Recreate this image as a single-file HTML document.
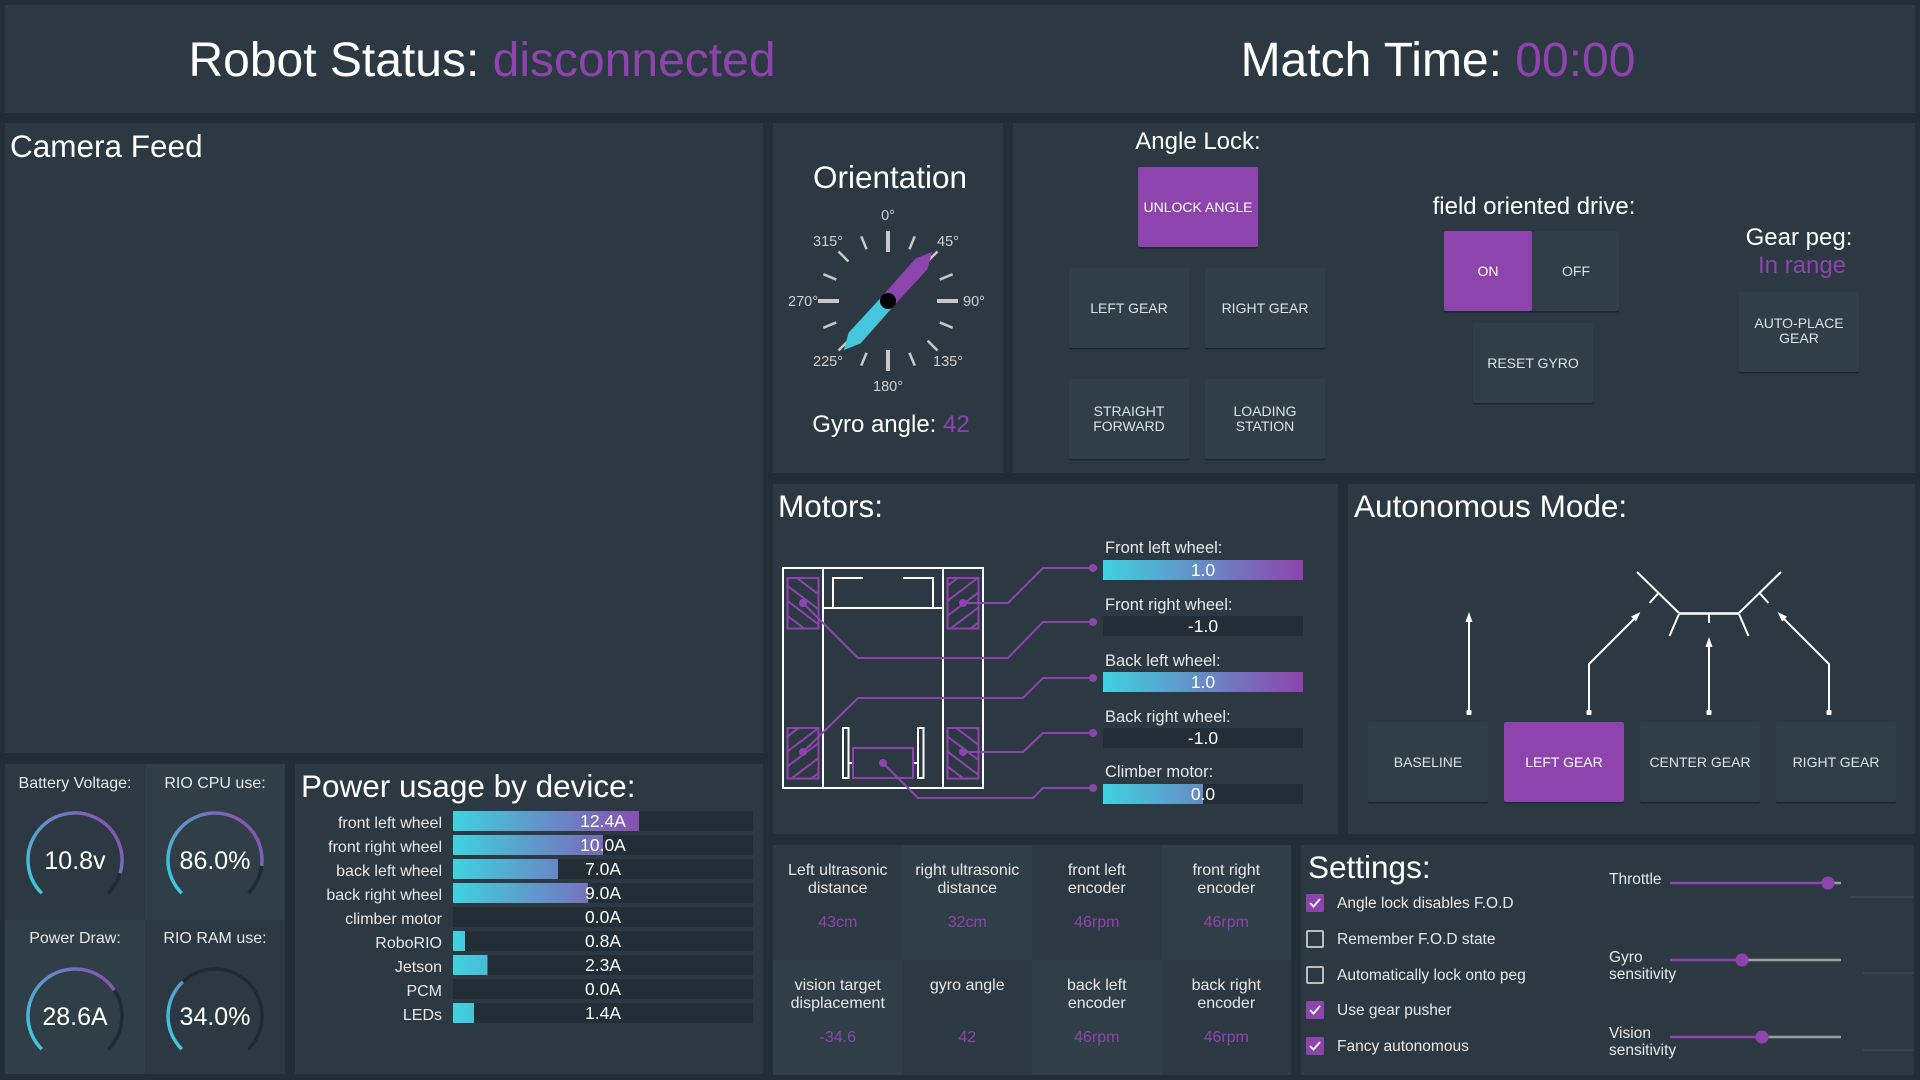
<!DOCTYPE html>
<html><head><meta charset="utf-8"><style>
html,body{margin:0;padding:0;background:#222e36;}
svg{display:block;font-family:"Liberation Sans",Arial,sans-serif;}
</style></head><body>
<svg width="1920" height="1080" viewBox="0 0 1920 1080" xmlns="http://www.w3.org/2000/svg">
<defs>
<linearGradient id="gm" gradientUnits="userSpaceOnUse" x1="1103" y1="0" x2="1303" y2="0"><stop offset="0" stop-color="#3fd2df"/><stop offset="1" stop-color="#8e44ad"/></linearGradient>
<linearGradient id="gp" gradientUnits="userSpaceOnUse" x1="453" y1="0" x2="653" y2="0"><stop offset="0" stop-color="#3fd2df"/><stop offset="1" stop-color="#8e44ad"/></linearGradient>
<linearGradient id="g1" gradientUnits="userSpaceOnUse" x1="40" y1="895" x2="120" y2="830"><stop offset="0" stop-color="#3fc9dc"/><stop offset="1" stop-color="#8a4fb0"/></linearGradient>
<linearGradient id="g2" gradientUnits="userSpaceOnUse" x1="180" y1="895" x2="260" y2="830"><stop offset="0" stop-color="#3fc9dc"/><stop offset="1" stop-color="#8a4fb0"/></linearGradient>
<linearGradient id="g3" gradientUnits="userSpaceOnUse" x1="40" y1="1051" x2="120" y2="986"><stop offset="0" stop-color="#3fc9dc"/><stop offset="1" stop-color="#8a4fb0"/></linearGradient>
<linearGradient id="g4" gradientUnits="userSpaceOnUse" x1="180" y1="1051" x2="260" y2="986"><stop offset="0" stop-color="#3fc9dc"/><stop offset="1" stop-color="#8a4fb0"/></linearGradient>
<pattern id="hb" width="20" height="12" patternUnits="userSpaceOnUse" patternTransform="rotate(37)"><line x1="0" y1="6" x2="20" y2="6" stroke="#8e44ad" stroke-width="2"/></pattern>
<pattern id="hf" width="20" height="12" patternUnits="userSpaceOnUse" patternTransform="rotate(-37)"><line x1="0" y1="6" x2="20" y2="6" stroke="#8e44ad" stroke-width="2"/></pattern>
</defs>

<!-- panels -->
<g fill="#2c3943">
<rect x="5" y="5" width="1910" height="108"/>
<rect x="5" y="123" width="758" height="630"/>
<rect x="773" y="123" width="230" height="350"/>
<rect x="1013" y="123" width="902" height="350"/>
<rect x="773" y="484" width="565" height="350"/>
<rect x="1348" y="484" width="567" height="350"/>
<rect x="5" y="764" width="280" height="310"/>
<rect x="295" y="764" width="468" height="310"/>
<rect x="773" y="845" width="518" height="230"/>
<rect x="1301" y="845" width="613" height="230"/>
</g>

<!-- header -->
<text x="482" y="76" font-size="48" text-anchor="middle" fill="#ffffff">Robot Status: <tspan fill="#8e44ad">disconnected</tspan></text>
<text x="1438" y="76" font-size="48" text-anchor="middle" fill="#ffffff">Match Time: <tspan fill="#8e44ad">00:00</tspan></text>

<!-- camera -->
<text x="10" y="157" font-size="31.5" fill="#ffffff">Camera Feed</text>

<!-- orientation -->
<text x="890" y="188" font-size="31.5" text-anchor="middle" fill="#ffffff">Orientation</text>
<g transform="translate(888,301)" stroke="#c8c8c8">
<line x1="0" y1="-49" x2="0" y2="-70" stroke-width="4"/>
<line x1="0" y1="-49" x2="0" y2="-70" stroke-width="4" transform="rotate(90)"/>
<line x1="0" y1="-49" x2="0" y2="-70" stroke-width="4" transform="rotate(180)"/>
<line x1="0" y1="-49" x2="0" y2="-70" stroke-width="4" transform="rotate(270)"/>
<g stroke-width="2.5">
<line x1="0" y1="-56" x2="0" y2="-70" transform="rotate(22.5)"/>
<line x1="0" y1="-56" x2="0" y2="-70" transform="rotate(45)"/>
<line x1="0" y1="-56" x2="0" y2="-70" transform="rotate(67.5)"/>
<line x1="0" y1="-56" x2="0" y2="-70" transform="rotate(112.5)"/>
<line x1="0" y1="-56" x2="0" y2="-70" transform="rotate(135)"/>
<line x1="0" y1="-56" x2="0" y2="-70" transform="rotate(157.5)"/>
<line x1="0" y1="-56" x2="0" y2="-70" transform="rotate(202.5)"/>
<line x1="0" y1="-56" x2="0" y2="-70" transform="rotate(225)"/>
<line x1="0" y1="-56" x2="0" y2="-70" transform="rotate(247.5)"/>
<line x1="0" y1="-56" x2="0" y2="-70" transform="rotate(292.5)"/>
<line x1="0" y1="-56" x2="0" y2="-70" transform="rotate(315)"/>
<line x1="0" y1="-56" x2="0" y2="-70" transform="rotate(337.5)"/>
</g>
</g>
<g font-size="14.5" fill="#cfcfcf" text-anchor="middle">
<text x="888" y="220">0°</text>
<text x="948" y="246">45°</text>
<text x="974" y="306">90°</text>
<text x="948" y="366">135°</text>
<text x="888" y="391">180°</text>
<text x="828" y="366">225°</text>
<text x="803" y="306">270°</text>
<text x="828" y="246">315°</text>
</g>
<g transform="translate(888,301) rotate(42)">
<polygon points="-7.5,0 -8,-50 0,-66 8,-50 7.5,0" fill="#8e44ad"/>
<polygon points="-7.5,0 -8,50 0,66 8,50 7.5,0" fill="#46c6dc"/>
<circle cx="0" cy="0" r="8" fill="#000"/>
</g>
<text x="891" y="432" font-size="24" text-anchor="middle" fill="#ffffff">Gyro angle: <tspan fill="#8e44ad">42</tspan></text>

<!-- angle lock panel -->
<g font-size="24" fill="#ffffff" text-anchor="middle">
<text x="1198" y="149">Angle Lock:</text>
<text x="1534" y="214">field oriented drive:</text>
<text x="1799" y="245">Gear peg:</text>
<text x="1802" y="273" fill="#8e44ad">In range</text>
</g>
<g fill="#1d272e">
<rect x="1138" y="168.5" width="120" height="80" rx="2"/>
<rect x="1069" y="269.5" width="120" height="80" rx="2"/>
<rect x="1205" y="269.5" width="120" height="80" rx="2"/>
<rect x="1069" y="380.5" width="120" height="80" rx="2"/>
<rect x="1205" y="380.5" width="120" height="80" rx="2"/>
<rect x="1444" y="232.5" width="175" height="80" rx="2"/>
<rect x="1473" y="324.5" width="120" height="80" rx="2"/>
<rect x="1739" y="293.5" width="120" height="80" rx="2"/>
<rect x="1368" y="723.5" width="120" height="80" rx="2"/>
<rect x="1504" y="723.5" width="120" height="80" rx="2"/>
<rect x="1640" y="723.5" width="120" height="80" rx="2"/>
<rect x="1776" y="723.5" width="120" height="80" rx="2"/>
</g>
<g fill="#303e48">
<rect x="1069" y="268" width="120" height="80" rx="2"/>
<rect x="1205" y="268" width="120" height="80" rx="2"/>
<rect x="1069" y="379" width="120" height="80" rx="2"/>
<rect x="1205" y="379" width="120" height="80" rx="2"/>
<rect x="1444" y="231" width="175" height="80" rx="2"/>
<rect x="1473" y="323" width="120" height="80" rx="2"/>
<rect x="1739" y="292" width="120" height="80" rx="2"/>
<rect x="1368" y="722" width="120" height="80" rx="2"/>
<rect x="1640" y="722" width="120" height="80" rx="2"/>
<rect x="1776" y="722" width="120" height="80" rx="2"/>
</g>
<g fill="#8e44ad">
<rect x="1138" y="167" width="120" height="80" rx="2"/>
<rect x="1444" y="231" width="88" height="80" rx="2"/>
<rect x="1504" y="722" width="120" height="80" rx="2"/>
</g>
<g font-size="14" fill="#dde2e5" text-anchor="middle">
<text x="1198" y="212" fill="#ffffff">UNLOCK ANGLE</text>
<text x="1129" y="313">LEFT GEAR</text>
<text x="1265" y="313">RIGHT GEAR</text>
<text x="1129" y="416">STRAIGHT</text>
<text x="1129" y="431">FORWARD</text>
<text x="1265" y="416">LOADING</text>
<text x="1265" y="431">STATION</text>
<text x="1488" y="276" fill="#ffffff">ON</text>
<text x="1576" y="276">OFF</text>
<text x="1533" y="368">RESET GYRO</text>
<text x="1799" y="328">AUTO-PLACE</text>
<text x="1799" y="343">GEAR</text>
<text x="1428" y="767">BASELINE</text>
<text x="1564" y="767" fill="#ffffff">LEFT GEAR</text>
<text x="1700" y="767">CENTER GEAR</text>
<text x="1836" y="767">RIGHT GEAR</text>
</g>

<!-- motors -->
<text x="778" y="517" font-size="31.5" fill="#ffffff">Motors:</text>
<g fill="none" stroke="#ffffff" stroke-width="2">
<rect x="783" y="568" width="200" height="220"/>
<line x1="823" y1="568" x2="823" y2="788"/>
<line x1="943" y1="568" x2="943" y2="788"/>
<line x1="823" y1="608" x2="943" y2="608"/>
<polyline points="863,578 833,578 833,608"/>
<polyline points="903,578 933,578 933,608"/>
<rect x="843" y="728" width="5.5" height="50"/>
<rect x="918" y="728" width="5.5" height="50"/>
<line x1="848.5" y1="763" x2="853" y2="763"/>
<line x1="913" y1="763" x2="918" y2="763"/>
</g>
<rect x="787.5" y="578" width="31" height="50.5" fill="url(#hb)" stroke="#8e44ad" stroke-width="2"/>
<rect x="947.5" y="578" width="31" height="50.5" fill="url(#hf)" stroke="#8e44ad" stroke-width="2"/>
<rect x="787.5" y="728" width="31" height="50.5" fill="url(#hf)" stroke="#8e44ad" stroke-width="2"/>
<rect x="947.5" y="728" width="31" height="50.5" fill="url(#hb)" stroke="#8e44ad" stroke-width="2"/>
<rect x="853" y="748" width="60" height="30" fill="none" stroke="#8e44ad" stroke-width="2"/>
<g fill="none" stroke="#8e44ad" stroke-width="2">
<polyline points="963,603 1008,603 1043,568 1093,568"/>
<polyline points="803,603 858,658 1008,658 1043,622 1093,622"/>
<polyline points="803,752 858,698 1023,698 1043,678 1093,678"/>
<polyline points="963,752 1023,752 1043,733 1093,733"/>
<polyline points="883,763 918,798 1033,798 1043,788 1093,788"/>
</g>
<g fill="#8e44ad">
<circle cx="803" cy="603" r="4"/><circle cx="963" cy="603" r="4"/>
<circle cx="803" cy="752" r="4"/><circle cx="963" cy="752" r="4"/>
<circle cx="883" cy="763" r="4"/>
<circle cx="1093" cy="568" r="4"/><circle cx="1093" cy="622" r="4"/>
<circle cx="1093" cy="678" r="4"/><circle cx="1093" cy="733" r="4"/>
<circle cx="1093" cy="788" r="4"/>
</g>
<g font-size="16.5" fill="#e8e8e8">
<text x="1105" y="553">Front left wheel:</text>
<text x="1105" y="610">Front right wheel:</text>
<text x="1105" y="666">Back left wheel:</text>
<text x="1105" y="722">Back right wheel:</text>
<text x="1105" y="777">Climber motor:</text>
</g>
<rect x="1103" y="560" width="200" height="20" fill="url(#gm)"/>
<rect x="1103" y="616" width="200" height="20" fill="#222d35"/>
<rect x="1103" y="672" width="200" height="20" fill="url(#gm)"/>
<rect x="1103" y="728" width="200" height="20" fill="#222d35"/>
<rect x="1103" y="784" width="200" height="20" fill="#222d35"/>
<rect x="1103" y="784" width="100" height="20" fill="url(#gm)"/>
<g font-size="17.5" fill="#ffffff" text-anchor="middle">
<text x="1203" y="576">1.0</text>
<text x="1203" y="632">-1.0</text>
<text x="1203" y="688">1.0</text>
<text x="1203" y="744">-1.0</text>
<text x="1203" y="800">0.0</text>
</g>

<!-- autonomous -->
<text x="1354" y="517" font-size="31.5" fill="#ffffff">Autonomous Mode:</text>
<g fill="none" stroke="#ffffff" stroke-width="2">
<line x1="1469" y1="712" x2="1469" y2="621"/>
<polyline points="1589,712 1589,664 1634,619"/>
<line x1="1709" y1="712" x2="1709" y2="646"/>
<polyline points="1829,712 1829,664 1784,619"/>
<line x1="1637" y1="572" x2="1679" y2="613"/>
<line x1="1739" y1="613" x2="1781" y2="572"/>
<line x1="1679" y1="613.5" x2="1739" y2="613.5" stroke-width="2.5"/>
<line x1="1658.5" y1="593" x2="1649.5" y2="603"/>
<line x1="1759.5" y1="593" x2="1768.5" y2="603"/>
<line x1="1679" y1="614" x2="1669.5" y2="636"/>
<line x1="1739" y1="614" x2="1748.5" y2="636"/>
<line x1="1709" y1="614" x2="1709" y2="623"/>
</g>
<g fill="#ffffff">
<polygon points="1469,612 1465.5,622 1472.5,622"/>
<polygon points="1640.4,612 1635.9,621.6 1630.9,616.6"/>
<polygon points="1709,637 1705.5,647 1712.5,647"/>
<polygon points="1777.6,612 1787.1,616.6 1782.1,621.6"/>
<rect x="1466.5" y="710" width="5" height="5" rx="1"/>
<rect x="1586.5" y="710" width="5" height="5" rx="1"/>
<rect x="1706.5" y="710" width="5" height="5" rx="1"/>
<rect x="1826.5" y="710" width="5" height="5" rx="1"/>
</g>

<!-- gauges -->
<rect x="145" y="764" width="140" height="156" fill="#303e48"/>
<rect x="5" y="920" width="140" height="154" fill="#303e48"/>
<g font-size="16" fill="#e8e8e8" text-anchor="middle">
<text x="75" y="788">Battery Voltage:</text>
<text x="215" y="788">RIO CPU use:</text>
<text x="75" y="943">Power Draw:</text>
<text x="215" y="943">RIO RAM use:</text>
</g>
<g fill="none" stroke="#1f2a31" stroke-width="3.5">
<path d="M41.77,893.23 A47,47 0 1 1 108.23,893.23"/>
<path d="M181.77,893.23 A47,47 0 1 1 248.23,893.23"/>
<path d="M41.77,1049.23 A47,47 0 1 1 108.23,1049.23"/>
<path d="M181.77,1049.23 A47,47 0 1 1 248.23,1049.23"/>
</g>
<g fill="none" stroke-width="3.5">
<path d="M41.77,893.23 A47,47 0 1 1 120.09,873.27" stroke="url(#g1)"/>
<path d="M181.77,893.23 A47,47 0 1 1 261.63,865.89" stroke="url(#g2)"/>
<path d="M41.77,1049.23 A47,47 0 1 1 114.28,990.2" stroke="url(#g3)"/>
<path d="M181.77,1049.23 A47,47 0 0 1 182.83,981.74" stroke="url(#g4)"/>
</g>
<g font-size="25" fill="#ffffff" text-anchor="middle">
<text x="75" y="869">10.8v</text>
<text x="215" y="869">86.0%</text>
<text x="75" y="1025">28.6A</text>
<text x="215" y="1025">34.0%</text>
</g>

<!-- power usage -->
<text x="301" y="797" font-size="31.5" fill="#ffffff">Power usage by device:</text>
<g fill="#222d35">
<rect x="453" y="811" width="300" height="20"/>
<rect x="453" y="835" width="300" height="20"/>
<rect x="453" y="859" width="300" height="20"/>
<rect x="453" y="883" width="300" height="20"/>
<rect x="453" y="907" width="300" height="20"/>
<rect x="453" y="931" width="300" height="20"/>
<rect x="453" y="955" width="300" height="20"/>
<rect x="453" y="979" width="300" height="20"/>
<rect x="453" y="1003" width="300" height="20"/>
</g>
<g fill="url(#gp)">
<rect x="453" y="811" width="186" height="20"/>
<rect x="453" y="835" width="150" height="20"/>
<rect x="453" y="859" width="105" height="20"/>
<rect x="453" y="883" width="135" height="20"/>
<rect x="453" y="931" width="12" height="20"/>
<rect x="453" y="955" width="34.5" height="20"/>
<rect x="453" y="1003" width="21" height="20"/>
</g>
<g font-size="16" fill="#e8e8e8" text-anchor="end">
<text x="442" y="828">front left wheel</text>
<text x="442" y="852">front right wheel</text>
<text x="442" y="876">back left wheel</text>
<text x="442" y="900">back right wheel</text>
<text x="442" y="924">climber motor</text>
<text x="442" y="948">RoboRIO</text>
<text x="442" y="972">Jetson</text>
<text x="442" y="996">PCM</text>
<text x="442" y="1020">LEDs</text>
</g>
<g font-size="17.5" fill="#ffffff" text-anchor="middle">
<text x="603" y="827">12.4A</text>
<text x="603" y="851">10.0A</text>
<text x="603" y="875">7.0A</text>
<text x="603" y="899">9.0A</text>
<text x="603" y="923">0.0A</text>
<text x="603" y="947">0.8A</text>
<text x="603" y="971">2.3A</text>
<text x="603" y="995">0.0A</text>
<text x="603" y="1019">1.4A</text>
</g>

<!-- sensors grid -->
<g fill="#303e48">
<rect x="902.5" y="845" width="129.5" height="115"/>
<rect x="1161.5" y="845" width="129.5" height="115"/>
<rect x="773" y="960" width="129.5" height="115"/>
<rect x="1032" y="960" width="129.5" height="115"/>
</g>
<g font-size="16" fill="#e8e8e8" text-anchor="middle">
<text x="837.75" y="875">Left ultrasonic</text><text x="837.75" y="893">distance</text>
<text x="967.25" y="875">right ultrasonic</text><text x="967.25" y="893">distance</text>
<text x="1096.75" y="875">front left</text><text x="1096.75" y="893">encoder</text>
<text x="1226.25" y="875">front right</text><text x="1226.25" y="893">encoder</text>
<text x="837.75" y="990">vision target</text><text x="837.75" y="1008">displacement</text>
<text x="967.25" y="990">gyro angle</text>
<text x="1096.75" y="990">back left</text><text x="1096.75" y="1008">encoder</text>
<text x="1226.25" y="990">back right</text><text x="1226.25" y="1008">encoder</text>
</g>
<g font-size="16" fill="#8e44ad" text-anchor="middle">
<text x="837.75" y="927">43cm</text>
<text x="967.25" y="927">32cm</text>
<text x="1096.75" y="927">46rpm</text>
<text x="1226.25" y="927">46rpm</text>
<text x="837.75" y="1042">-34.6</text>
<text x="967.25" y="1042">42</text>
<text x="1096.75" y="1042">46rpm</text>
<text x="1226.25" y="1042">46rpm</text>
</g>

<!-- settings -->
<text x="1308" y="878" font-size="31.5" fill="#ffffff">Settings:</text>
<g fill="#8e44ad">
<rect x="1306" y="894" width="18" height="18" rx="1.5"/>
<rect x="1306" y="1001" width="18" height="18" rx="1.5"/>
<rect x="1306" y="1037" width="18" height="18" rx="1.5"/>
</g>
<g fill="none" stroke="#bdbdbd" stroke-width="2">
<rect x="1307" y="931" width="16" height="16" rx="1"/>
<rect x="1307" y="967" width="16" height="16" rx="1"/>
</g>
<g fill="none" stroke="#ffffff" stroke-width="1.8">
<polyline points="1310,903 1313.5,906.5 1320,899"/>
<polyline points="1310,1010 1313.5,1013.5 1320,1006"/>
<polyline points="1310,1046 1313.5,1049.5 1320,1042"/>
</g>
<g font-size="15.5" fill="#e8e8e8">
<text x="1337" y="908">Angle lock disables F.O.D</text>
<text x="1337" y="944">Remember F.O.D state</text>
<text x="1337" y="980">Automatically lock onto peg</text>
<text x="1337" y="1015">Use gear pusher</text>
<text x="1337" y="1051">Fancy autonomous</text>
<text x="1609" y="884">Throttle</text>
<text x="1609" y="962">Gyro</text>
<text x="1609" y="979">sensitivity</text>
<text x="1609" y="1038">Vision</text>
<text x="1609" y="1055">sensitivity</text>
</g>
<g stroke-width="2.5">
<line x1="1670" y1="883" x2="1828" y2="883" stroke="#8e44ad"/>
<line x1="1828" y1="883" x2="1841" y2="883" stroke="#9e9e9e"/>
<line x1="1670" y1="960" x2="1742" y2="960" stroke="#8e44ad"/>
<line x1="1742" y1="960" x2="1841" y2="960" stroke="#9e9e9e"/>
<line x1="1670" y1="1037" x2="1762" y2="1037" stroke="#8e44ad"/>
<line x1="1762" y1="1037" x2="1841" y2="1037" stroke="#9e9e9e"/>
</g>
<g fill="#8e44ad">
<circle cx="1828" cy="883" r="6.5"/>
<circle cx="1742" cy="960" r="6.5"/>
<circle cx="1762" cy="1037" r="6.5"/>
</g>
<g stroke="#45525b" stroke-width="1">
<line x1="1850" y1="897" x2="1913" y2="897"/>
<line x1="1863" y1="973" x2="1913" y2="973"/>
<line x1="1863" y1="1050" x2="1913" y2="1050"/>
</g>
</svg>
</body></html>
